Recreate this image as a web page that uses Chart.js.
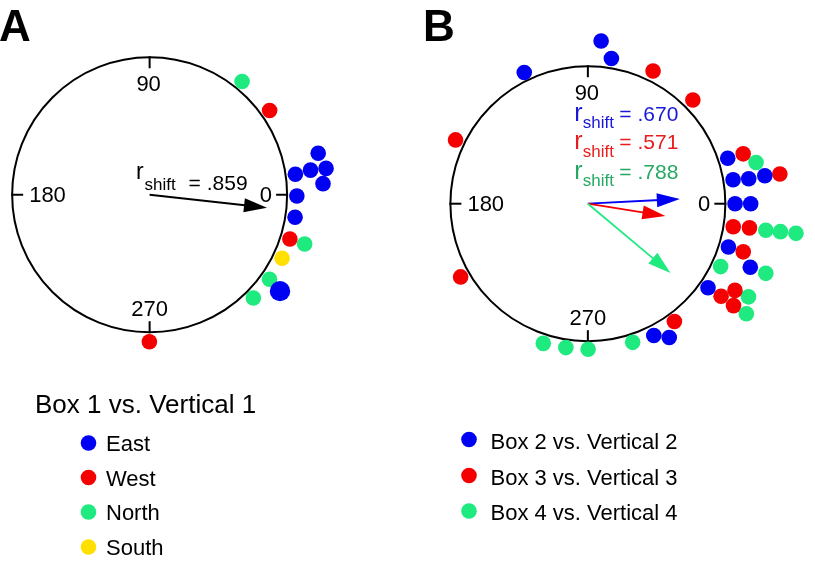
<!DOCTYPE html>
<html><head><meta charset="utf-8">
<script src="https://cdn.jsdelivr.net/npm/chart.js@4.4.1/dist/chart.umd.min.js"></script>
<style>html,body{margin:0;padding:0;background:#fff;}#wrap{position:relative;width:815px;height:562px;}</style>
</head><body><div id="wrap"><canvas id="c" width="815" height="562"></canvas></div>
<script>
// ---------------- DATA ----------------
const tickAngles = [0, 90, 180, 270];
const tickLabels = ['0', '90', '180', '270'];
const panelLetters = ['A', 'B'];

// Panel A (angle in degrees, stack level outside the circle)
const eastAngles  = [8.1, 8.8, 14.0, 8.6, 3.7, 359.5, 351.1, 323.2];
const eastStack   = [0, 1, 1.7, 2, 1.7, 0, 0, 1];
const eastCount   = [1, 1, 1, 1, 1, 1, 1, 2];
const westAngles  = [35.4, 342.3, 269.9];
const westStack   = [0, 0, 0.1];
const northAngles = [51.1, 342.2, 324.5, 314.8];
const northStack  = [0, 1, 0, 0];
const southAngles = [334.1];
const southStack  = [0];
const rShiftA = 0.859;
const meanAngleA = 353.6;

// Panel B
const box2Angles = [85.4, 80.9, 115.6, 18.2, 9.5, 8.9, 9.1, 0, 0, 342.7, 338.4, 324.7, 296.3, 301.0];
const box2Stack  = [1.15, 0.1, 0, 0, 0, 1, 2.05, 0, 1, 0, 1.76, 0, 0.1, 0.69];
const box3Angles = [64.1, 45.0, 154.0, 210.2, 18.0, 8.9, 350.9, 351.4, 342.6, 324.9, 329.2, 324.7, 306.0];
const box3Stack  = [0.13, 0.08, 0, 0, 1.03, 3.02, 0, 1.04, 1, 1, 1.54, 2, 0];
const box4Angles = [13.9, 351.4, 351.65, 351.8, 334.4, 338.4, 329.6, 324.9, 287.7, 270.1, 261.4, 252.5];
const box4Stack  = [1.67, 2.1, 3.04, 4.04, 0, 2.83, 2.5, 2.98, 0, 0, 0, 0.06];
const rShiftB = [0.670, 0.571, 0.788];
const meanAngleB = [3.0, 350.9, 319.7];

const legendA = ['East', 'West', 'North', 'South'];
const legendATitle = 'Box 1 vs. Vertical 1';
const legendB = ['Box 2 vs. Vertical 2', 'Box 3 vs. Vertical 3', 'Box 4 vs. Vertical 4'];

// ---------------- STYLE ----------------
const BLUE = '#0000f2', RED = '#f40000', GREEN = '#1eea80', YELLOW = '#ffe000';
const TXT_BLUE = '#1818d6', TXT_RED = '#e81c1c', TXT_GREEN = '#26a864';
const FONT = "'Liberation Sans', Arial, Helvetica, sans-serif";
const W = 815, H = 562, RPX = 141;
const cA = {x: 143, y: 191.5}, cB = {x: 592.5, y: 200.8};

function toPts(angles, stack) {
  return angles.map((a, i) => {
    const r = (151 + 16 * stack[i]) / RPX;
    const t = a * Math.PI / 180;
    return {x: r * Math.cos(t), y: r * Math.sin(t)};
  });
}
function ds(label, angles, stack, color, xId, yId, counts) {
  return {
    label, data: toPts(angles, stack), xAxisID: xId, yAxisID: yId,
    backgroundColor: color, borderColor: color, borderWidth: 0,
    pointRadius: counts ? counts.map(c => c > 1 ? 10.2 : 7.8) : 7.8,
    pointHoverRadius: 7.8, showLine: false, clip: false
  };
}

function geom(chart, xId, yId) {
  const xs = chart.scales[xId], ys = chart.scales[yId];
  const cx = xs.getPixelForValue(0), cy = ys.getPixelForValue(0);
  const r = xs.getPixelForValue(1) - cx;
  return {xs, ys, cx, cy, r};
}
function drawCircle(ctx, g) {
  ctx.save();
  ctx.strokeStyle = '#000'; ctx.lineWidth = 2;
  ctx.beginPath(); ctx.arc(g.cx, g.cy, g.r, 0, Math.PI * 2); ctx.stroke();
  tickAngles.forEach((a, i) => {
    const t = a * Math.PI / 180, c = Math.cos(t), s = -Math.sin(t);
    ctx.beginPath();
    ctx.moveTo(g.cx + c * (g.r - 11), g.cy + s * (g.r - 11));
    ctx.lineTo(g.cx + c * (g.r + 1), g.cy + s * (g.r + 1));
    ctx.stroke();
  });
  ctx.fillStyle = '#000';
  ctx.font = '22px ' + FONT;
  ctx.textBaseline = 'alphabetic';
  ctx.textAlign = 'right'; ctx.fillText(tickLabels[0], g.cx + g.r - 15, g.cy + 7.5);
  ctx.textAlign = 'center'; ctx.fillText(tickLabels[1], g.cx - 1, g.cy - g.r + 34);
  ctx.textAlign = 'left'; ctx.fillText(tickLabels[2], g.cx - g.r + 17, g.cy + 7.5);
  ctx.textAlign = 'center'; ctx.fillText(tickLabels[3], g.cx, g.cy + g.r - 16);
  ctx.restore();
}
function drawArrow(ctx, g, len, angDeg, color, lw) {
  const t = angDeg * Math.PI / 180;
  const tx = g.xs.getPixelForValue(len * Math.cos(t)), ty = g.ys.getPixelForValue(len * Math.sin(t));
  const dx = tx - g.cx, dy = ty - g.cy, L = Math.hypot(dx, dy), ux = dx / L, uy = dy / L;
  const hl = 23, hw = 7;
  const bx = tx - ux * hl, by = ty - uy * hl;
  ctx.save();
  ctx.strokeStyle = color; ctx.lineWidth = lw;
  ctx.beginPath(); ctx.moveTo(g.cx, g.cy); ctx.lineTo(bx + ux * 3, by + uy * 3); ctx.stroke();
  ctx.fillStyle = color;
  ctx.beginPath(); ctx.moveTo(tx, ty);
  ctx.lineTo(bx - uy * hw, by + ux * hw); ctx.lineTo(bx + uy * hw, by - ux * hw);
  ctx.closePath(); ctx.fill();
  ctx.restore();
}
function rText(ctx, x, yBase, rBase, subBase, value, color, eqX, rSize) {
  ctx.save();
  ctx.fillStyle = color; ctx.textAlign = 'left'; ctx.textBaseline = 'alphabetic';
  ctx.font = rSize + 'px ' + FONT; ctx.fillText('r', x, rBase);
  ctx.font = '17px ' + FONT; ctx.fillText('shift', x + 8.5, subBase);
  ctx.font = '21px ' + FONT; ctx.fillText('= ' + value.toFixed(3).replace(/^0/, ''), eqX, yBase);
  ctx.restore();
}

const overlay = {
  id: 'overlay',
  beforeDatasetsDraw(chart) {
    const ctx = chart.ctx;
    drawCircle(ctx, geom(chart, 'xA', 'yA'));
    drawCircle(ctx, geom(chart, 'xB', 'yB'));
  },
  afterDatasetsDraw(chart) {
    const ctx = chart.ctx;
    const gA = geom(chart, 'xA', 'yA'), gB = geom(chart, 'xB', 'yB');
    drawArrow(ctx, gA, rShiftA, meanAngleA, '#000', 2);
    const cols = [BLUE, RED, GREEN];
    rShiftB.forEach((r, i) => drawArrow(ctx, gB, r, meanAngleB[i], cols[i], 1.8));

    rText(ctx, gA.cx - 13.5, gA.cy - 4.5, gA.cy - 16, gA.cy - 4.5, rShiftA, '#000', gA.cx + 39, 23);
    const tcols = [TXT_BLUE, TXT_RED, TXT_GREEN];
    const baseY = [-83, -54.5, -25];
    rShiftB.forEach((r, i) => {
      const yb = gB.cy + baseY[i];
      rText(ctx, gB.cx - 13.5, yb, yb, yb + 7.5, r, tcols[i], gB.cx + 31.5, 25);
    });

    ctx.save();
    ctx.fillStyle = '#000'; ctx.textAlign = 'left'; ctx.textBaseline = 'alphabetic';
    ctx.font = 'bold 44px ' + FONT;
    ctx.fillText(panelLetters[0], -1, 40.5);
    ctx.fillText(panelLetters[1], 423, 40.5);

    ctx.font = '26px ' + FONT;
    ctx.fillText(legendATitle, 35, 413);
    const colA = [BLUE, RED, GREEN, YELLOW];
    const ysA = [451, 485.5, 520, 555];
    ctx.font = '22px ' + FONT;
    legendA.forEach((t, i) => {
      ctx.fillStyle = colA[i];
      ctx.beginPath(); ctx.arc(88.5, ysA[i] - 8, 7.8, 0, Math.PI * 2); ctx.fill();
      ctx.fillStyle = '#000'; ctx.fillText(t, 106, ysA[i]);
    });
    const colB = [BLUE, RED, GREEN];
    const ysB = [448.5, 484.5, 520];
    legendB.forEach((t, i) => {
      ctx.fillStyle = colB[i];
      ctx.beginPath(); ctx.arc(469, ysB[i] - 9, 7.8, 0, Math.PI * 2); ctx.fill();
      ctx.fillStyle = '#000'; ctx.fillText(t, 490.5, ysB[i]);
    });
    ctx.restore();
  }
};

new Chart(document.getElementById('c'), {
  type: 'scatter',
  data: {
    datasets: [
      ds('East', eastAngles, eastStack, BLUE, 'xA', 'yA', eastCount),
      ds('West', westAngles, westStack, RED, 'xA', 'yA'),
      ds('North', northAngles, northStack, GREEN, 'xA', 'yA'),
      ds('South', southAngles, southStack, YELLOW, 'xA', 'yA'),
      ds('Box 2 vs. Vertical 2', box2Angles, box2Stack, BLUE, 'xB', 'yB'),
      ds('Box 3 vs. Vertical 3', box3Angles, box3Stack, RED, 'xB', 'yB'),
      ds('Box 4 vs. Vertical 4', box4Angles, box4Stack, GREEN, 'xB', 'yB')
    ]
  },
  options: {
    responsive: false, animation: false, events: [],
    layout: {padding: 0},
    plugins: {legend: {display: false}, tooltip: {enabled: false}, title: {display: false}},
    scales: {
      xA: {type: 'linear', axis: 'x', display: false, min: -cA.x / RPX, max: (W - cA.x) / RPX},
      yA: {type: 'linear', axis: 'y', display: false, min: -(H - cA.y) / RPX, max: cA.y / RPX},
      xB: {type: 'linear', axis: 'x', display: false, min: -cB.x / RPX, max: (W - cB.x) / RPX},
      yB: {type: 'linear', axis: 'y', display: false, min: -(H - cB.y) / RPX, max: cB.y / RPX}
    }
  },
  plugins: [overlay]
});
</script></body></html>
